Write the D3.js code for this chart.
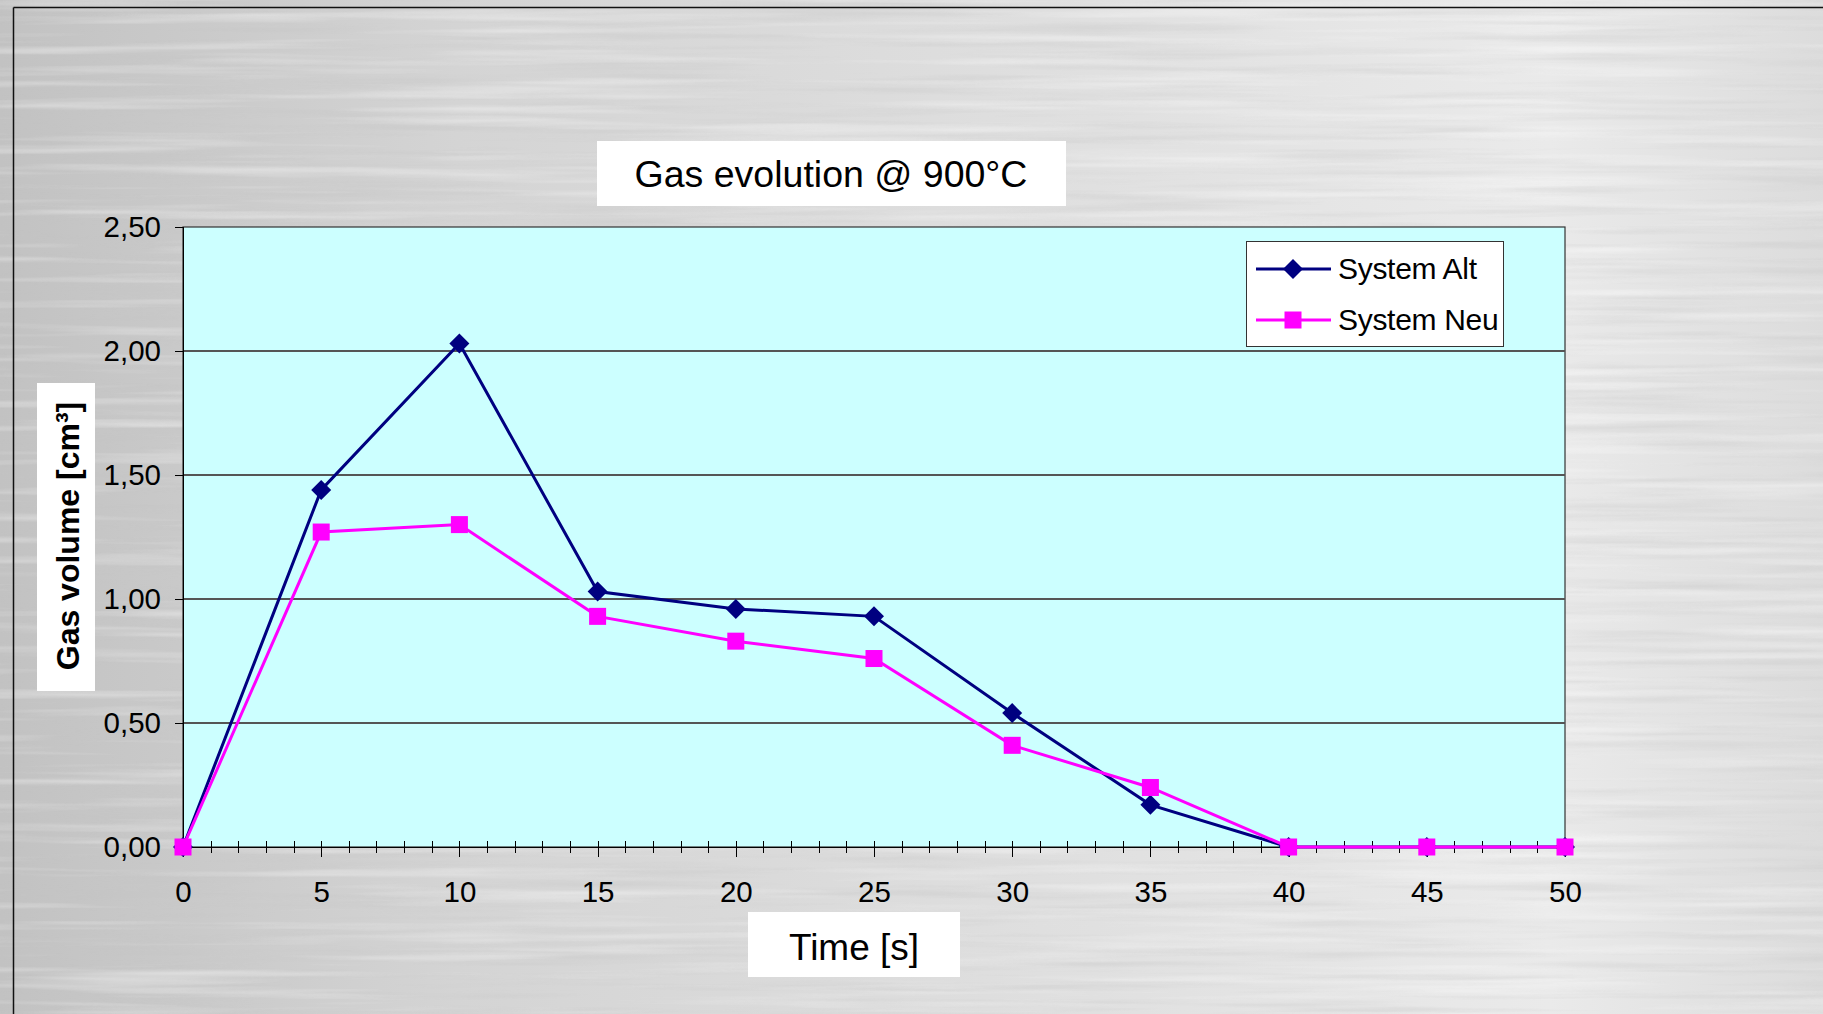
<!DOCTYPE html>
<meta charset="utf-8">
<style>
body { margin: 0; overflow: hidden; font-family: "Liberation Sans", Arial, sans-serif; }
.axis path, .axis line { fill: none; stroke: #000; shape-rendering: crispEdges; }
.grid line { stroke: #555; stroke-width: 1.5; shape-rendering: crispEdges; }
</style>
<body>
<script src="https://d3js.org/d3.v7.min.js"></script>
<script>
// data
var times = [0, 5, 10, 15, 20, 25, 30, 35, 40, 45, 50];
var systemAlt = [0, 1.44, 2.03, 1.03, 0.96, 0.93, 0.54, 0.17, 0, 0, 0];
var systemNeu = [0, 1.27, 1.30, 0.93, 0.83, 0.76, 0.41, 0.24, 0, 0, 0];
var yTicks = [0, 0.5, 1, 1.5, 2, 2.5];
var xTicks = [0, 5, 10, 15, 20, 25, 30, 35, 40, 45, 50];
var seriesNames = ["System Alt", "System Neu"];

var W = 1823, H = 1014;
var plotLeft = 183, plotRight = 1565, plotTop = 227, plotBottom = 847;

var svg = d3.select("body").append("svg")
    .attr("width", W)
    .attr("height", H);

// brushed metal background
var defs = svg.append("defs");
var grad = defs.append("linearGradient").attr("id", "metal");
grad.append("stop").attr("offset", "0%").attr("stop-color", "#c2c2c2");
grad.append("stop").attr("offset", "25%").attr("stop-color", "#d4d4d4");
grad.append("stop").attr("offset", "60%").attr("stop-color", "#e0e0e0");
grad.append("stop").attr("offset", "85%").attr("stop-color", "#eaeaea");
grad.append("stop").attr("offset", "100%").attr("stop-color", "#dcdcdc");

var f1 = defs.append("filter").attr("id", "streaks")
    .attr("x", 0).attr("y", 0).attr("width", 1).attr("height", 1);
f1.append("feTurbulence")
    .attr("type", "fractalNoise")
    .attr("baseFrequency", "0.004 0.12")
    .attr("numOctaves", 3)
    .attr("seed", 4);
f1.append("feColorMatrix")
    .attr("type", "matrix")
    .attr("values", "0 0 0 0 0.55  0 0 0 0 0.55  0 0 0 0 0.55  1.6 0 0 0 -0.75");

var f2 = defs.append("filter").attr("id", "streaks2")
    .attr("x", 0).attr("y", 0).attr("width", 1).attr("height", 1);
f2.append("feTurbulence")
    .attr("type", "fractalNoise")
    .attr("baseFrequency", "0.003 0.09")
    .attr("numOctaves", 3)
    .attr("seed", 11);
f2.append("feColorMatrix")
    .attr("type", "matrix")
    .attr("values", "0 0 0 0 1  0 0 0 0 1  0 0 0 0 1  1.6 0 0 0 -0.8");

svg.append("rect").attr("width", W).attr("height", H).attr("fill", "url(#metal)");
svg.append("rect").attr("width", W).attr("height", H).attr("filter", "url(#streaks)").attr("opacity", 0.5);
svg.append("rect").attr("width", W).attr("height", H).attr("filter", "url(#streaks2)").attr("opacity", 0.6);

// outer frame lines
svg.append("line").attr("x1", 13.5).attr("x2", W).attr("y1", 7.5).attr("y2", 7.5)
    .attr("stroke", "#111").attr("stroke-width", 1.5);
svg.append("line").attr("x1", 13.5).attr("x2", 13.5).attr("y1", 7.5).attr("y2", H)
    .attr("stroke", "#111").attr("stroke-width", 1.5);

var x = d3.scaleLinear().domain([0, 50]).range([plotLeft, plotRight]);
var y = d3.scaleLinear().domain([0, 2.5]).range([plotBottom, plotTop]);

// plot area
svg.append("rect")
    .attr("x", plotLeft).attr("y", plotTop)
    .attr("width", plotRight - plotLeft).attr("height", plotBottom - plotTop)
    .attr("fill", "#ccffff")
    .attr("stroke", "#333")
    .attr("stroke-width", 1.2);

// grid
svg.append("g").attr("class", "grid")
  .selectAll("line")
    .data(yTicks.slice(1, -1))
  .enter().append("line")
    .attr("x1", plotLeft).attr("x2", plotRight)
    .attr("y1", function(d) { return y(d); })
    .attr("y2", function(d) { return y(d); });

var fmt = function(d) { return d.toFixed(2).replace(".", ","); };

// y axis
var yAxis = d3.axisLeft(y).tickValues(yTicks).tickSize(8).tickPadding(14).tickFormat(fmt);
var gy = svg.append("g").attr("class", "axis")
    .attr("transform", "translate(" + plotLeft + ",0)")
    .call(yAxis);
gy.select(".domain").attr("stroke", "#222");
gy.selectAll(".tick line").attr("stroke", "#555");
gy.selectAll("text").style("font-size", "29.5px").style("fill", "#000")
    .style("font-family", "Liberation Sans, Arial, sans-serif");

// x axis, minor ticks every 1
var minor = d3.range(0, 51, 1).filter(function(d) { return d % 5 !== 0; });
svg.append("g")
  .selectAll("line")
    .data(minor)
  .enter().append("line")
    .attr("x1", function(d) { return Math.round(x(d)) + 0.5; })
    .attr("x2", function(d) { return Math.round(x(d)) + 0.5; })
    .attr("y1", plotBottom - 6).attr("y2", plotBottom + 6)
    .attr("stroke", "#000").attr("stroke-width", 1);

var xAxis = d3.axisBottom(x).tickValues(xTicks).tickSize(8).tickPadding(26).tickFormat(d3.format("d"));
var gx = svg.append("g").attr("class", "axis")
    .attr("transform", "translate(0," + plotBottom + ")")
    .call(xAxis);
gx.select(".domain").attr("d", "M" + plotLeft + ",0.5H" + plotRight);
gx.selectAll(".tick line").attr("y1", -6).attr("y2", 10);
gx.selectAll("text").style("font-size", "29.5px").style("fill", "#000")
    .style("font-family", "Liberation Sans, Arial, sans-serif");

// series
var altData = times.map(function(t, i) { return [t, systemAlt[i]]; });
var neuData = times.map(function(t, i) { return [t, systemNeu[i]]; });
var line = d3.line().x(function(d) { return x(d[0]); }).y(function(d) { return y(d[1]); });

var altColor = "#000080", neuColor = "#ff00ff";

svg.append("path").datum(altData)
    .attr("d", line).attr("fill", "none")
    .attr("stroke", altColor).attr("stroke-width", 3);
svg.selectAll(".alt")
    .data(altData)
  .enter().append("path")
    .attr("class", "alt")
    .attr("transform", function(d) { return "translate(" + x(d[0]) + "," + y(d[1]) + ")"; })
    .attr("d", "M0,-10L10,0L0,10L-10,0Z")
    .attr("fill", altColor);

svg.append("path").datum(neuData)
    .attr("d", line).attr("fill", "none")
    .attr("stroke", neuColor).attr("stroke-width", 3);
svg.selectAll(".neu")
    .data(neuData)
  .enter().append("rect")
    .attr("class", "neu")
    .attr("x", function(d) { return x(d[0]) - 8.5; })
    .attr("y", function(d) { return y(d[1]) - 8.5; })
    .attr("width", 17).attr("height", 17)
    .attr("fill", neuColor);

// legend
var legend = svg.append("g");
legend.append("rect")
    .attr("x", 1246.5).attr("y", 241.5).attr("width", 257).attr("height", 105)
    .attr("fill", "#fff").attr("stroke", "#333").attr("stroke-width", 1);
var items = legend.selectAll(".item")
    .data(seriesNames)
  .enter().append("g")
    .attr("transform", function(d, i) { return "translate(0," + (269 + i * 51) + ")"; });
items.append("line")
    .attr("x1", 1256).attr("x2", 1331).attr("y1", 0).attr("y2", 0)
    .attr("stroke", function(d, i) { return i === 0 ? altColor : neuColor; })
    .attr("stroke-width", 3);
items.each(function(d, i) {
  var g = d3.select(this);
  if (i === 0) {
    g.append("path").attr("transform", "translate(1293,0)")
        .attr("d", "M0,-10L10,0L0,10L-10,0Z").attr("fill", altColor);
  } else {
    g.append("rect").attr("x", 1284.5).attr("y", -8.5).attr("width", 17).attr("height", 17)
        .attr("fill", neuColor);
  }
});
items.append("text")
    .attr("x", 1338).attr("y", 10)
    .style("font-size", "30px")
    .style("letter-spacing", "-0.3px")
    .text(function(d) { return d; });

// title
svg.append("rect").attr("x", 597).attr("y", 141).attr("width", 469).attr("height", 65).attr("fill", "#fff");
svg.append("text")
    .attr("x", 831).attr("y", 187)
    .attr("text-anchor", "middle")
    .style("font-size", "37.5px")
    .text("Gas evolution @ 900°C");

// x label
svg.append("rect").attr("x", 748).attr("y", 912).attr("width", 212).attr("height", 65).attr("fill", "#fff");
svg.append("text")
    .attr("x", 854).attr("y", 960)
    .attr("text-anchor", "middle")
    .style("font-size", "37px")
    .text("Time [s]");

// y label
svg.append("rect").attr("x", 37).attr("y", 383).attr("width", 58).attr("height", 308).attr("fill", "#fff");
svg.append("text")
    .attr("transform", "translate(79,536) rotate(-90)")
    .attr("text-anchor", "middle")
    .style("font-size", "32px")
    .style("font-weight", "bold")
    .text("Gas volume [cm³]");
</script>
